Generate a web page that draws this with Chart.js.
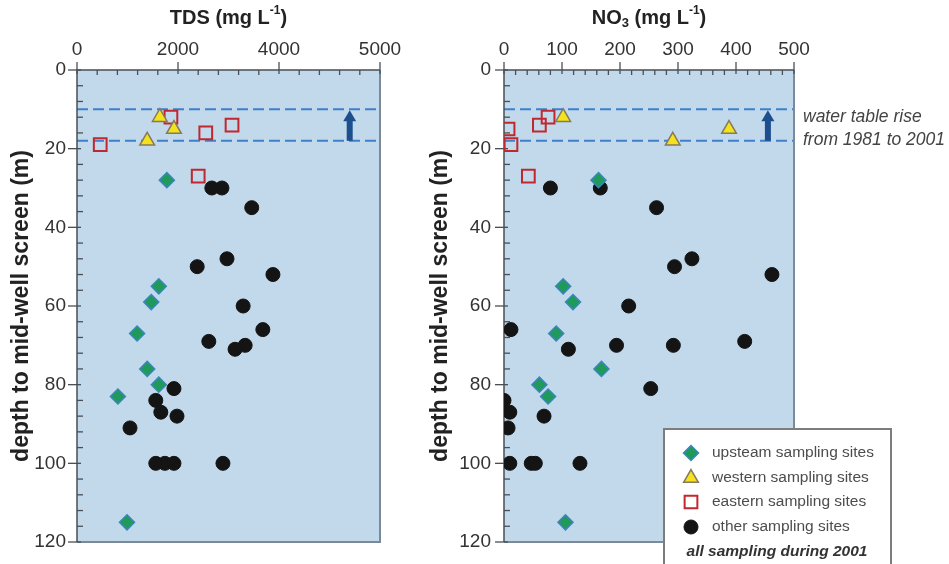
<!DOCTYPE html>
<html>
<head>
<meta charset="utf-8">
<script src="https://cdn.jsdelivr.net/npm/chart.js@4.4.1/dist/chart.umd.min.js"></script>
<style>
    html, body { margin: 0; padding: 0; background: #fff; }
    body { width: 949px; height: 564px; position: relative; overflow: hidden; }
    canvas { position: absolute; top: 0; }
    #grafico_tds { left: 0; }
    #grafico_no3 { left: 420px; }
</style>
</head>
<body>
<canvas id="grafico_tds" width="430" height="564"></canvas>
<canvas id="grafico_no3" width="529" height="564"></canvas>
<script>
/*
    ||=====================================================
    || DATOS
    ||=====================================================
*/

// profundidad (m) de cada grupo de sitios
let prof_upsteam = [28, 55, 59, 67, 76, 80, 83, 115]
let prof_western = [12, 15, 18]
let prof_eastern_tds = [12, 14, 16, 19, 27]
let prof_eastern_no3 = [12, 14, 15, 19, 27]
let prof_other_tds = [30, 30, 35, 48, 50, 52, 60, 66, 69, 70, 71, 81, 84, 87, 88, 91, 100, 100, 100, 100]
let prof_other_no3 = [30, 30, 35, 48, 50, 52, 60, 66, 69, 70, 70, 71, 81, 84, 87, 88, 91, 100, 100, 100, 100]

// TDS (mg/L)
let tds_upsteam = [1780, 1620, 1470, 1190, 1390, 1620, 810, 990]
let tds_western = [1640, 1920, 1390]
let tds_eastern = [1860, 3070, 2550, 460, 2400]
let tds_other = [2670, 2870, 3460, 2970, 2380, 3880, 3290, 3680, 2610, 3330, 3130, 1920, 1560, 1660, 1980, 1050, 1560, 1740, 1920, 2890]

// NO3 (mg/L)
let no3_upsteam = [163, 102, 119, 90, 168, 61, 76, 106]
let no3_western = [102, 388, 291]
let no3_eastern = [76, 61, 7, 12, 42]
let no3_other = [80, 166, 263, 324, 294, 462, 215, 12, 415, 194, 292, 111, 253, 0, 10, 69, 7, 10, 47, 54, 131]

// ejes
let tds_tick_valores = [0, 2000, 4000, 6000]
let tds_tick_etiquetas = ['0', '2000', '4000', '5000']
let no3_tick_valores = [0, 100, 200, 300, 400, 500]
let no3_tick_etiquetas = ['0', '100', '200', '300', '400', '500']
let prof_tick_valores = [0, 20, 40, 60, 80, 100, 120]

// nivel freatico 1981 -> 2001
let nivel_freatico = [18, 10]

let series_nombres = ['upsteam sampling sites', 'western sampling sites', 'eastern sampling sites', 'other sampling sites']

// titulos con super/subindice: [texto, tipo]  n = normal, sup, sub
let titulo_tds = [['TDS (mg L', 'n'], ['-1', 'sup'], [')', 'n']]
let titulo_no3 = [['NO', 'n'], ['3', 'sub'], [' (mg L', 'n'], ['-1', 'sup'], [')', 'n']]


/*
    ||=====================================================
    || ESTILOS
    ||=====================================================
*/

let fuente = "'Liberation Sans', Arial, sans-serif"

let estilos = [
    { pointStyle: 'rectRot', radius: 7.5, backgroundColor: '#1f9a5b', borderColor: '#3a86b8', borderWidth: 1.5 },
    { pointStyle: 'triangle', radius: 8.5, backgroundColor: '#f3e21c', borderColor: '#857a5e', borderWidth: 1.5 },
    { pointStyle: 'rect', radius: 9, backgroundColor: 'rgba(0,0,0,0)', borderColor: '#c0282f', borderWidth: 2 },
    { pointStyle: 'circle', radius: 7, backgroundColor: '#141414', borderColor: '#141414', borderWidth: 1 },
]

function puntos(xs, ys){
    return xs.map((v, i) => ({ x: v, y: ys[i] }))
}

function dataset_config(indice, xs, ys){
    let e = estilos[indice]
    return {
        label: series_nombres[indice],
        data: puntos(xs, ys),
        pointStyle: e.pointStyle,
        pointRadius: e.radius,
        pointBackgroundColor: e.backgroundColor,
        pointBorderColor: e.borderColor,
        pointBorderWidth: e.borderWidth,
        showLine: false,
    }
}


/*
    ||=====================================================
    || DECORACION (fondo, marco, ticks, nivel freatico, titulo)
    ||=====================================================
*/

function dibujar_titulo(ctx, partes, cx, cy){
    let fuentes = {
        n: 'bold 20px ' + fuente,
        sup: 'bold 12px ' + fuente,
        sub: 'bold 13px ' + fuente,
    }
    let dy = { n: 0, sup: -7, sub: 5 }
    let total = 0
    partes.forEach(p => {
        ctx.font = fuentes[p[1]]
        total += ctx.measureText(p[0]).width
    })
    let x = cx - total / 2
    ctx.fillStyle = '#222'
    ctx.textAlign = 'left'
    ctx.textBaseline = 'middle'
    partes.forEach(p => {
        ctx.font = fuentes[p[1]]
        ctx.fillText(p[0], x, cy + dy[p[1]])
        x += ctx.measureText(p[0]).width
    })
}

function crear_decoracion(op){
    return {
        id: 'decoracion',
        beforeDatasetsDraw(chart){
            let ctx = chart.ctx
            let a = chart.chartArea
            let sx = chart.scales.x
            let sy = chart.scales.y
            ctx.save()
            // fondo
            ctx.fillStyle = '#c2d8eb'
            ctx.fillRect(a.left, a.top, a.right - a.left, a.bottom - a.top)

            // lineas del nivel freatico
            ctx.strokeStyle = '#3f7fcc'
            ctx.lineWidth = 2
            ctx.setLineDash([11, 5])
            nivel_freatico.forEach(p => {
                let y = sy.getPixelForValue(p)
                ctx.beginPath()
                ctx.moveTo(a.left, y)
                ctx.lineTo(a.right, y)
                ctx.stroke()
            })
            ctx.setLineDash([])

            // flecha
            let fx = sx.getPixelForValue(op.flecha_x)
            let y_abajo = sy.getPixelForValue(nivel_freatico[0])
            let y_arriba = sy.getPixelForValue(nivel_freatico[1])
            ctx.fillStyle = '#1d4f8f'
            ctx.fillRect(fx - 3, y_arriba + 11, 6, y_abajo - y_arriba - 11)
            ctx.beginPath()
            ctx.moveTo(fx - 6.5, y_arriba + 12)
            ctx.lineTo(fx + 6.5, y_arriba + 12)
            ctx.lineTo(fx, y_arriba + 1)
            ctx.closePath()
            ctx.fill()

            // marco
            ctx.strokeStyle = '#7b8a99'
            ctx.lineWidth = 2
            ctx.beginPath()
            ctx.moveTo(a.right, a.top)
            ctx.lineTo(a.right, a.bottom)
            ctx.lineTo(a.left, a.bottom)
            ctx.stroke()
            ctx.strokeStyle = '#4a4f55'
            ctx.lineWidth = 1.5
            ctx.beginPath()
            ctx.moveTo(a.left, a.bottom)
            ctx.lineTo(a.left, a.top)
            ctx.lineTo(a.right, a.top)
            ctx.stroke()

            // ticks eje x (arriba)
            ctx.lineWidth = 1.3
            for (let v = sx.min; v <= sx.max + 0.001; v += op.menor_x) {
                let x = sx.getPixelForValue(v)
                let mayor = Math.abs(v % op.mayor_x) < 0.001
                ctx.beginPath()
                ctx.moveTo(x, mayor ? a.top - 8 : a.top)
                ctx.lineTo(x, a.top + (mayor ? 4 : 5))
                ctx.stroke()
            }
            // ticks eje y
            for (let v = sy.min; v <= sy.max + 0.001; v += 4) {
                let y = sy.getPixelForValue(v)
                let mayor = v % 20 == 0
                ctx.beginPath()
                ctx.moveTo(mayor ? a.left - 9 : a.left, y)
                ctx.lineTo(a.left + (mayor ? 4 : 6), y)
                ctx.stroke()
            }
            ctx.restore()
        },
        afterDraw(chart){
            let a = chart.chartArea
            chart.ctx.save()
            dibujar_titulo(chart.ctx, op.titulo, (a.left + a.right) / 2, 18)
            chart.ctx.restore()
        }
    }
}

let leyenda_no3 = {
    id: 'leyenda_no3',
    afterDraw(chart){
        let ctx = chart.ctx
        let a = chart.chartArea
        ctx.save()
        // texto del nivel freatico
        ctx.fillStyle = '#444'
        ctx.font = 'italic 17.5px ' + fuente
        ctx.textAlign = 'left'
        ctx.textBaseline = 'middle'
        ctx.fillText('water table rise', a.right + 9, 117)
        ctx.fillText('from 1981 to 2001', a.right + 9, 140)

        // caja de leyenda
        ctx.fillStyle = '#ffffff'
        ctx.fillRect(244, 429, 227, 150)
        ctx.strokeStyle = '#7d7d7d'
        ctx.lineWidth = 2
        ctx.strokeRect(244, 429, 227, 150)

        let filas = [453, 478, 502, 527]
        estilos.forEach((e, i) => {
            ctx.fillStyle = e.backgroundColor
            ctx.strokeStyle = e.borderColor
            ctx.lineWidth = e.borderWidth
            Chart.helpers.drawPoint(ctx, { pointStyle: e.pointStyle, radius: e.radius, rotation: 0, borderWidth: e.borderWidth }, 271, filas[i])
            ctx.fillStyle = '#4d4d4d'
            ctx.font = '15.5px ' + fuente
            ctx.textAlign = 'left'
            ctx.textBaseline = 'middle'
            ctx.fillText(series_nombres[i], 292, filas[i])
        })
        ctx.fillStyle = '#333'
        ctx.font = 'italic bold 15.5px ' + fuente
        ctx.textAlign = 'center'
        ctx.fillText('all sampling during 2001', 357, 552)
        ctx.restore()
    }
}


/*
    ||=====================================================
    || CONFIGURACION
    ||=====================================================
*/

function chart_config(p){
    return {
        type: 'scatter',
        data: { datasets: p.datasets },
        options: {
            responsive: false,
            animation: false,
            layout: { padding: { left: 0, top: 0, right: p.pad_derecha, bottom: 22 } },
            plugins: {
                legend: { display: false },
                tooltip: { enabled: false },
            },
            scales: {
                x: {
                    type: 'linear',
                    position: 'top',
                    min: 0,
                    max: p.tick_valores[p.tick_valores.length - 1],
                    afterBuildTicks: s => { s.ticks = p.tick_valores.map(v => ({ value: v })) },
                    ticks: {
                        callback: (v, i) => p.tick_etiquetas[i],
                        font: { family: fuente, size: 19 },
                        color: '#333',
                        padding: 9,
                        maxRotation: 0,
                        autoSkip: false,
                    },
                    grid: { display: false, drawTicks: false },
                    border: { display: false },
                    title: { display: false },
                    afterFit: s => { s.height = 70 },
                },
                y: {
                    type: 'linear',
                    reverse: true,
                    min: 0,
                    max: 120,
                    afterBuildTicks: s => { s.ticks = prof_tick_valores.map(v => ({ value: v })) },
                    ticks: {
                        font: { family: fuente, size: 19 },
                        color: '#333',
                        padding: 8,
                    },
                    // las marcas se dibujan en el plugin, tickLength solo separa las etiquetas
                    grid: { display: false, drawTicks: true, tickLength: p.sep_ticks_y },
                    border: { display: false },
                    title: {
                        display: true,
                        text: 'depth to mid-well screen (m)',
                        font: { family: fuente, size: 23, weight: 'bold' },
                        color: '#222',
                        padding: { top: p.pad_titulo_y, bottom: 0 },
                    },
                    afterFit: s => { s.width = p.ancho_y },
                },
            },
        },
        plugins: p.plugins,
    }
}

let config_tds = chart_config({
    tick_valores: tds_tick_valores,
    tick_etiquetas: tds_tick_etiquetas,
    pad_derecha: 50,
    ancho_y: 77,
    sep_ticks_y: 3,
    pad_titulo_y: 8,
    datasets: [
        dataset_config(0, tds_upsteam, prof_upsteam),
        dataset_config(1, tds_western, prof_western),
        dataset_config(2, tds_eastern, prof_eastern_tds),
        dataset_config(3, tds_other, prof_other_tds),
    ],
    plugins: [crear_decoracion({ titulo: titulo_tds, flecha_x: 5400, menor_x: 400, mayor_x: 2000 })],
})

let config_no3 = chart_config({
    tick_valores: no3_tick_valores,
    tick_etiquetas: no3_tick_etiquetas,
    pad_derecha: 155,
    ancho_y: 84,
    sep_ticks_y: 5,
    pad_titulo_y: 7,
    datasets: [
        dataset_config(0, no3_upsteam, prof_upsteam),
        dataset_config(1, no3_western, prof_western),
        dataset_config(2, no3_eastern, prof_eastern_no3),
        dataset_config(3, no3_other, prof_other_no3),
    ],
    plugins: [crear_decoracion({ titulo: titulo_no3, flecha_x: 455, menor_x: 20, mayor_x: 100 }), leyenda_no3],
})

let grafico_tds = new Chart(document.getElementById('grafico_tds').getContext('2d'), config_tds)
let grafico_no3 = new Chart(document.getElementById('grafico_no3').getContext('2d'), config_no3)
</script>
</body>
</html>
